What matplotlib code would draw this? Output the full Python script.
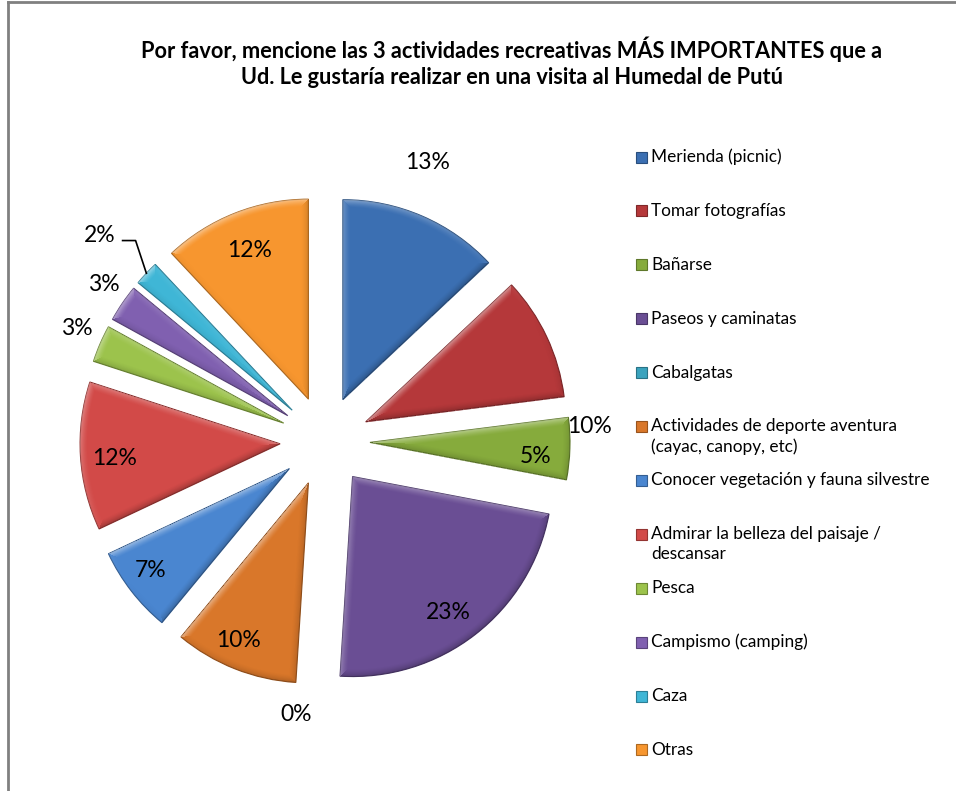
import numpy as np
import matplotlib.pyplot as plt
from matplotlib.patches import Rectangle
from matplotlib.lines import Line2D
import matplotlib.colors as mcolors

# data
activities = ["Merienda (picnic)", "Tomar fotografías", "Bañarse", "Paseos y caminatas",
              "Cabalgatas", "Actividades de deporte aventura\n(cayac, canopy, etc)",
              "Conocer vegetación y fauna silvestre",
              "Admirar la belleza del paisaje /\ndescansar", "Pesca",
              "Campismo (camping)", "Caza", "Otras"]
values = [13, 10, 5, 23, 0, 10, 7, 12, 3, 3, 2, 12]
colors = ["#3b6fb2", "#b5383a", "#86ab3c", "#6a4e94", "#3aa3be", "#d9772a",
          "#4a86d0", "#d24a48", "#9cc34c", "#8060b0", "#3fb6d6", "#f7962f"]
title = ("Por favor, mencione las 3 actividades recreativas MÁS IMPORTANTES que a\n"
         "Ud. Le gustaría realizar en una visita al Humedal de Putú")

# label placement (fraction of radius, angle shift in degrees)
lab_r = [1.26, 1.12, 0.83, 0.83, 1.15, 0.86, 0.86, 0.83, 1.14, 1.13, 1.30, 0.80]
lab_da = [3.8, -26.5, -2.9, -2.6, -3, -2.3, -1.5, 1.3, -1.2, -1.3, 1.0, 0]

W, H = 956, 791
fig = plt.figure(figsize=(W / 100, H / 100), dpi=100)
ax = fig.add_axes([0, 0, 1, 1])

R = 200
cx, cy = 325, H - 441
expl = 45

wedges, _ = ax.pie(values, colors=colors, startangle=90, counterclock=False,
                   radius=R, center=(cx, cy), explode=[expl] * len(values))

# light direction for the bevel look
L = np.array([-0.55, 0.83])
bev = 8.0

for w, v, c in zip(wedges, values, colors):
    base = np.array(mcolors.to_rgb(c))
    if v == 0:
        w.set_edgecolor("none")
        w.set_linewidth(0)
        continue
    w.set_edgecolor(base * 0.7)
    w.set_linewidth(0.8)

    # bevel shading overlay clipped to the wedge
    x0, y0 = w.center
    t1, t2 = np.deg2rad(w.theta1), np.deg2rad(w.theta2)
    xs = np.arange(int(x0 - R) - 2, int(x0 + R) + 3)
    ys = np.arange(int(y0 - R) - 2, int(y0 + R) + 3)
    X, Y = np.meshgrid(xs + 0.5, ys + 0.5)
    dx, dy = X - x0, Y - y0
    r = np.hypot(dx, dy)
    phi = t1 + np.mod(np.arctan2(dy, dx) - t1, 2 * np.pi)
    d_arc = R - r
    d1 = r * np.sin(np.clip(phi - t1, 0, np.pi / 2))
    d2 = r * np.sin(np.clip(t2 - phi, 0, np.pi / 2))
    n_arc = np.cos(phi) * L[0] + np.sin(phi) * L[1]
    n1 = np.sin(t1) * L[0] - np.cos(t1) * L[1]
    n2 = -np.sin(t2) * L[0] + np.cos(t2) * L[1]
    d = np.minimum(np.minimum(d_arc, d1), d2)
    n = np.where(d == d_arc, n_arc, np.where(d == d1, n1, n2))
    f = np.clip(1 - d / bev, 0, 1) ** 1.5
    s = n * f
    img = np.zeros(X.shape + (4,))
    light = s > 0
    img[..., :3] = np.where(light[..., None], 1.0, 0.0)
    img[..., 3] = np.where(light, 0.45 * s, 0.25 * -s)
    im = ax.imshow(img, extent=(xs[0], xs[-1] + 1, ys[0], ys[-1] + 1),
                   origin="lower", interpolation="bilinear", zorder=w.get_zorder() + 0.1)
    im.set_clip_path(w)

for i, (w, v) in enumerate(zip(wedges, values)):
    mid = np.deg2rad((w.theta1 + w.theta2) / 2 + lab_da[i])
    x0, y0 = w.center
    lx = x0 + lab_r[i] * R * np.cos(mid)
    ly = y0 + lab_r[i] * R * np.sin(mid)
    ax.text(lx, ly, f"{v}%", fontsize=16.5, family="Lato", ha="center", va="center", zorder=5)
    if activities[i] == "Caza":
        m2 = np.deg2rad((w.theta1 + w.theta2) / 2)
        ex = x0 + R * np.cos(m2)
        ey = y0 + R * np.sin(m2)
        ax.plot([lx + 23, lx + 36, ex], [ly - 5, ly - 5, ey], color="black", lw=1.2)

# legend
ly0 = H - 157
step = 53.9
for i, (name, c) in enumerate(zip(activities, colors)):
    y = ly0 - i * step
    ax.add_patch(Rectangle((636, y - 5.5), 11, 11, facecolor=c,
                           edgecolor=np.array(mcolors.to_rgb(c)) * 0.7, lw=0.8))
    for j, line in enumerate(name.split("\n")):
        ax.text(651, y - j * 20, line, fontsize=12.4, family="Lato", ha="left", va="center")

fig.text(512 / W, 1 - 62 / H, title, fontsize=15.7, family="Lato", weight="bold",
         ha="center", va="center", linespacing=1.3)

# frame (left and top only visible)
ax.add_line(Line2D([8.5, 8.5], [0, H - 2], color="#808080", lw=2))
ax.add_line(Line2D([8.5, W], [H - 2, H - 2], color="#808080", lw=2))

ax.set_xlim(0, W)
ax.set_ylim(0, H)
ax.set_aspect("equal")
ax.axis("off")

fig.savefig("out.png", dpi=100, facecolor="white")
